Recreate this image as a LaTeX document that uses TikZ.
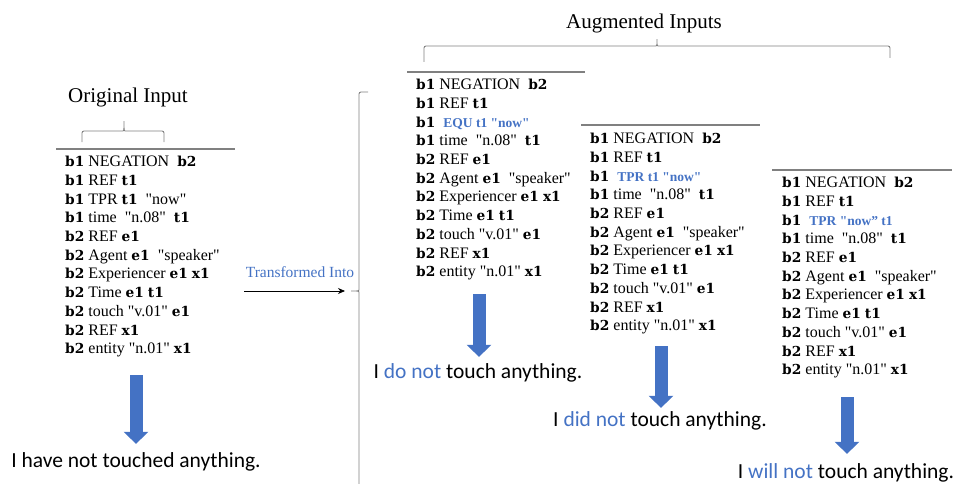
\documentclass[tikz,border=0pt]{standalone}
\usepackage{fontspec}
\setmainfont{Liberation Serif}[Ligatures=TeXOff]
\newfontfamily\clausefont{Liberation Serif}[Ligatures=TeXOff, WordSpace=1.4,
  BoldFont=DejaVu Serif Bold, BoldFeatures={Scale=0.86}]
\newfontfamily\tnrfont{Liberation Serif}[Ligatures=TeXOff]
\newfontfamily\sentfont{Carlito}
\usetikzlibrary{arrows.meta}

\definecolor{wordblue}{HTML}{4472C4}
\definecolor{rulegray}{HTML}{808080}

\newcommand{\bv}[1]{\textbf{#1}}
\newcommand{\newtime}[1]{{\color{wordblue}\tnrfont\fontsize{13.5}{13.5}\selectfont\bfseries #1}}
\newcommand{\clauses}[1]{%
  \bv{b1}\ NEGATION\ \ \bv{b2}\\
  \bv{b1} REF \bv{t1}\\
  \bv{b1} #1\\
  \bv{b1} time\ \ "n.08"\ \ \bv{t1}\\
  \bv{b2} REF \bv{e1}\\
  \bv{b2} Agent \bv{e1}\ \ "speaker"\\
  \bv{b2} Experiencer \bv{e1} \bv{x1}\\
  \bv{b2} Time \bv{e1} \bv{t1}\\
  \bv{b2} touch "v.01" \bv{e1}\\
  \bv{b2} REF \bv{x1}\\
  \bv{b2} entity "n.01" \bv{x1}}

\tikzset{
  clauselist/.style={anchor=north west, align=left, inner sep=0pt,
    font=\clausefont\fontsize{16}{18.7}\selectfont},
  datarule/.style={draw=rulegray, line width=1.3pt},
  bracket/.style={draw=rulegray, line width=0.9pt, rounded corners=2pt},
  sentence/.style={anchor=base, inner sep=0pt, font=\sentfont\fontsize{21.5}{24}\selectfont},
  downarrow/.style={draw=wordblue, line width=13pt, -{Triangle[width=24pt,length=12pt]}},
  title/.style={font=\fontsize{21}{24}\selectfont},
}

\begin{document}
\begin{tikzpicture}[x=1pt,y=-1pt]
  \useasboundingbox (0,0) rectangle (955,484);

  \node[title] (origtitle) at (128,97) {Original Input};
  \node[title] (augtitle) at (644,23) {Augmented Inputs};

  \draw[bracket] (82,142) |- (121,131) .. controls (124,131) .. (124,120)
    .. controls (124,131) .. (127,131) -| (164,142);
  \draw[bracket] (424,62) |- (654,46) .. controls (657,46) .. (657,38)
    .. controls (657,46) .. (660,46) -| (890,58);
  \draw[bracket] (368,92) -| (359,288) .. controls (359,291) .. (350,291)
    .. controls (359,291) .. (359,294) |- (368,492);

  \draw[datarule] (56,149) -- (235,149);
  \node[clauselist] (orig) at (65,156) {\clauses{TPR \bv{t1}\ \ "now"}};

  \draw[datarule] (407,72) -- (585,72);
  \node[clauselist] (aug1) at (416,79) {\clauses{\ \newtime{EQU t1 "now"}}};

  \draw[datarule] (581,125) -- (760,125);
  \node[clauselist] (aug2) at (590,133) {\clauses{\ \newtime{TPR t1 "now"}}};

  \draw[datarule] (772,170) -- (952,170);
  \node[clauselist] (aug3) at (782,177) {\clauses{\ \newtime{TPR "now” t1}}};

  \node[font=\fontsize{15.5}{18}\selectfont, text=wordblue] (trans) at (300,272) {Transformed Into};
  \coordinate (tstart) at (244,291);
  \coordinate (tend) at (345,291);
  \draw[line width=0.8pt, -{Stealth[length=7pt,width=6pt]}] (tstart) -- (tend);

  \node[sentence] (sent0) at (136,467) {I have not touched anything.};
  \node[sentence] (sent1) at (478,378) {I {\color{wordblue}do not} touch anything.};
  \node[sentence] (sent2) at (660,426) {I {\color{wordblue}did not} touch anything.};
  \node[sentence] (sent3) at (846,478) {I {\color{wordblue}will not} touch anything.};

  \coordinate (a0) at (136,375);
  \coordinate (a1) at (479,294);
  \coordinate (a2) at (661,346);
  \coordinate (a3) at (847,397);
  \draw[downarrow, shorten >=8pt] (a0) -- (a0 |- sent0.north);
  \draw[downarrow, shorten >=6pt] (a1) -- (a1 |- sent1.north);
  \draw[downarrow, shorten >=3pt] (a2) -- (a2 |- sent2.north);
  \draw[downarrow, shorten >=9pt] (a3) -- (a3 |- sent3.north);
\end{tikzpicture}
\end{document}
